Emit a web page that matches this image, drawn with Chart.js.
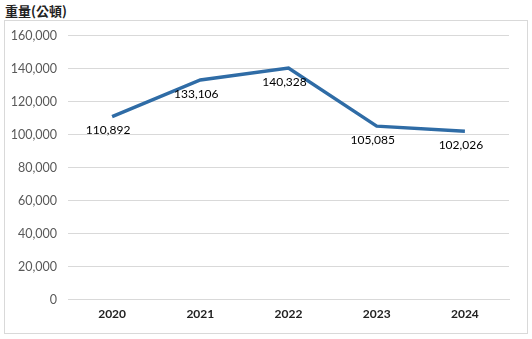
<!DOCTYPE html>
<html>
<head>
<meta charset="utf-8">
<script src="https://cdn.jsdelivr.net/npm/chart.js@4"></script>
<style>
  html, body { margin: 0; padding: 0; background: #fff; }
  body { width: 532px; height: 339px; position: relative; overflow: hidden; }
  #title { position: absolute; left: 5px; top: 1px; font: bold 13px "Noto Sans CJK TC", sans-serif; color: #222; }
  #box { position: absolute; left: 4px; top: 20px; width: 522px; height: 312px; border: 1px solid #d9d9d9; overflow: hidden; }
  #c { position: absolute; left: 0; top: -4px; }
</style>
</head>
<body>
<div id="title">重量(公頓)</div>
<div id="box"><canvas id="c" width="522" height="320"></canvas></div>
<script>
const years = ['2020', '2021', '2022', '2023', '2024'];
const weights = [110892, 133106, 140328, 105085, 102026];
const yTicks = [0, 20000, 40000, 60000, 80000, 100000, 120000, 140000, 160000];

// labels under each point
const pointLabels = {
  id: 'pointLabels',
  afterDatasetsDraw(chart) {
    const ctx = chart.ctx;
    const meta = chart.getDatasetMeta(0);
    ctx.save();
    ctx.font = '12px Lato, "Open Sans", sans-serif';
    ctx.fillStyle = '#000';
    ctx.textAlign = 'center';
    ctx.textBaseline = 'top';
    meta.data.forEach((pt, i) => {
      ctx.fillText(weights[i].toLocaleString('en-US'), pt.x - 4, pt.y + 8);
    });
    ctx.restore();
  }
};

new Chart(document.getElementById('c'), {
  type: 'line',
  data: {
    labels: years,
    datasets: [{
      data: weights,
      borderColor: '#2f6ca6',
      borderWidth: 3.5,
      pointRadius: 0,
      tension: 0
    }]
  },
  options: {
    responsive: false,
    animation: false,
    layout: { padding: { top: 0, right: 18, bottom: 9, left: 0 } },
    plugins: { legend: { display: false }, tooltip: { enabled: false } },
    scales: {
      x: {
        offset: true,
        grid: { display: false, drawTicks: false },
        border: { color: '#d9d9d9' },
        ticks: { color: '#222', font: { family: 'Lato, sans-serif', size: 12, weight: 'bold' }, padding: 7 }
      },
      y: {
        min: 0,
        max: 160000,
        afterBuildTicks(axis) { axis.ticks = yTicks.map(v => ({ value: v })); },
        afterFit(axis) { axis.width = 63; },
        grid: { color: '#d9d9d9', drawTicks: false },
        border: { display: false },
        ticks: {
          color: '#595959',
          font: { family: 'Lato, sans-serif', size: 12.5 },
          padding: 11,
          callback: v => v.toLocaleString('en-US')
        }
      }
    }
  },
  plugins: [pointLabels]
});
</script>
</body>
</html>
